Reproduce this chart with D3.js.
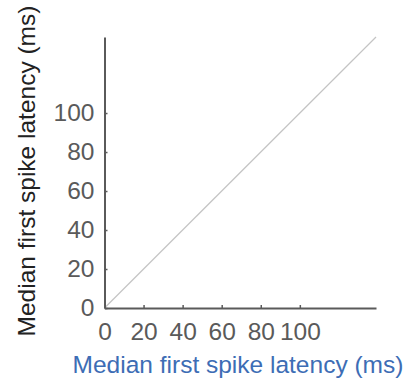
<!DOCTYPE html>
<html>
<head>
<meta charset="utf-8">
<script src="https://cdn.jsdelivr.net/npm/d3@7"></script>
<style>
  body { margin: 0; background: #fff; }
  svg { display: block; font-family: "Liberation Sans", Arial, sans-serif; }
</style>
</head>
<body>
<div class="chart"></div>
<script>
// chart data
let xTicks = [0, 20, 40, 60, 80, 100]
let yTicks = [0, 20, 40, 60, 80, 100]
let axisMax = 139
let unity = [0, 139] // identity line, x = y

let w = 411
let h = 383
let font = "'Liberation Sans', Arial, sans-serif"

let svg = d3.select(".chart")
            .append("svg")
            .attr("width", w)
            .attr("height", h);

let x = d3.scaleLinear().domain([0, axisMax]).range([104.5, 376])
let y = d3.scaleLinear().domain([0, axisMax]).range([308, 37])

// identity line
svg.append("path")
   .datum(unity)
   .attr("d", d3.line().x(d => x(d)).y(d => y(d)))
   .attr("stroke", "#c4c4c4")
   .attr("stroke-width", 1.2)
   .attr("fill", "none");

let xAxis = svg.append("g")
   .attr("transform", "translate(0," + y(0) + ")")
   .call(d3.axisBottom(x).tickValues(xTicks).tickSizeInner(-3).tickSizeOuter(0).tickPadding(15));

let yAxis = svg.append("g")
   .attr("transform", "translate(" + x(0) + ",0)")
   .call(d3.axisLeft(y).tickValues(yTicks).tickSizeInner(-3).tickSizeOuter(0).tickPadding(10));

[xAxis, yAxis].forEach(function(g) {
  g.select(".domain").attr("stroke", "#5a5a5a").attr("stroke-width", 2);
  g.selectAll(".tick line").attr("stroke", "#5a5a5a").attr("stroke-width", 1.5);
  g.selectAll(".tick text")
   .attr("fill", "#5a5a5a")
   .style("font-size", "24.5px")
   .style("font-family", font);
});

// axis titles
svg.append("text")
   .attr("x", 238)
   .attr("y", 373)
   .attr("text-anchor", "middle")
   .attr("fill", "#3d6db5")
   .style("font-size", "24.5px")
   .style("font-family", font)
   .text("Median first spike latency (ms)");

svg.append("text")
   .attr("transform", "translate(35,171) rotate(-90)")
   .attr("text-anchor", "middle")
   .attr("fill", "#222")
   .style("font-size", "24.5px")
   .style("font-family", font)
   .text("Median first spike latency (ms)");
</script>
</body>
</html>
